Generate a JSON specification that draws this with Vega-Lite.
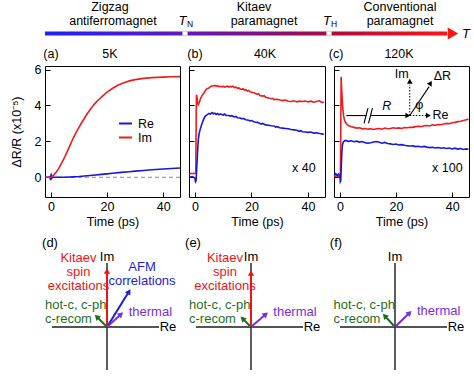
{
"$schema": "https://vega.github.io/schema/vega-lite/v6.json",
"padding": {"left": 9, "top": 0, "right": 0, "bottom": 0},
"autosize": {"type": "pad"},
"config": {
  "font": "Liberation Sans",
  "view": {"stroke": "black", "strokeWidth": 1},
  "axis": {"labelFontSize": 12.5, "titleFontSize": 12.5, "titleFontWeight": "normal", "labelColor": "black", "titleColor": "black", "tickColor": "black", "grid": false, "domain": false, "labelFont": "Liberation Sans", "titleFont": "Liberation Sans"},
  "legend": {"labelFont": "Liberation Sans"},
  "text": {"font": "Liberation Sans", "fontSize": 12.5, "color": "black"}
},
"datasets": {
  "a": [
    {"t":-2,"v":0,"s":"Re"},{"t":-1,"v":0,"s":"Re"},{"t":-0.4,"v":0.02,"s":"Re"},{"t":-0.1,"v":-0.15,"s":"Re"},{"t":0.1,"v":0.2,"s":"Re"},{"t":0.3,"v":-0.05,"s":"Re"},{"t":0.6,"v":0.02,"s":"Re"},{"t":1,"v":0,"s":"Re"},{"t":3,"v":0,"s":"Re"},{"t":5,"v":0,"s":"Re"},{"t":8,"v":0.02,"s":"Re"},{"t":10,"v":0.04,"s":"Re"},{"t":12,"v":0.07,"s":"Re"},{"t":15,"v":0.11,"s":"Re"},{"t":18,"v":0.16,"s":"Re"},{"t":20,"v":0.19,"s":"Re"},{"t":22,"v":0.22,"s":"Re"},{"t":25,"v":0.27,"s":"Re"},{"t":28,"v":0.31,"s":"Re"},{"t":30,"v":0.34,"s":"Re"},{"t":33,"v":0.38,"s":"Re"},{"t":36,"v":0.42,"s":"Re"},{"t":40,"v":0.46,"s":"Re"},{"t":43,"v":0.49,"s":"Re"},{"t":46,"v":0.52,"s":"Re"},
    {"t":-2,"v":0,"s":"Im"},{"t":-1,"v":0,"s":"Im"},{"t":0,"v":0,"s":"Im"},{"t":0.5,"v":0.05,"s":"Im"},{"t":1,"v":0.12,"s":"Im"},{"t":2,"v":0.3,"s":"Im"},{"t":3,"v":0.55,"s":"Im"},{"t":4,"v":0.85,"s":"Im"},{"t":5,"v":1.15,"s":"Im"},{"t":6,"v":1.5,"s":"Im"},{"t":7,"v":1.85,"s":"Im"},{"t":8,"v":2.2,"s":"Im"},{"t":9,"v":2.5,"s":"Im"},{"t":10,"v":2.78,"s":"Im"},{"t":11,"v":3.05,"s":"Im"},{"t":12,"v":3.3,"s":"Im"},{"t":13,"v":3.55,"s":"Im"},{"t":14,"v":3.78,"s":"Im"},{"t":15,"v":3.98,"s":"Im"},{"t":16,"v":4.16,"s":"Im"},{"t":17,"v":4.32,"s":"Im"},{"t":18,"v":4.47,"s":"Im"},{"t":19,"v":4.61,"s":"Im"},{"t":20,"v":4.74,"s":"Im"},{"t":22,"v":4.96,"s":"Im"},{"t":24,"v":5.14,"s":"Im"},{"t":26,"v":5.27,"s":"Im"},{"t":28,"v":5.37,"s":"Im"},{"t":30,"v":5.44,"s":"Im"},{"t":33,"v":5.51,"s":"Im"},{"t":36,"v":5.55,"s":"Im"},{"t":40,"v":5.58,"s":"Im"},{"t":43,"v":5.6,"s":"Im"},{"t":46,"v":5.61,"s":"Im"}
  ],
  "b": [
    {"t":-2,"v":0.2,"s":"Im"},{"t":-1.5,"v":0.22,"s":"Im"},{"t":-1,"v":0.2,"s":"Im"},{"t":-0.5,"v":0.22,"s":"Im"},{"t":0,"v":0.2,"s":"Im"},{"t":0.3,"v":0.25,"s":"Im"},{"t":0.45,"v":3.5,"s":"Im"},{"t":0.55,"v":4.6,"s":"Im"},{"t":0.7,"v":4.5,"s":"Im"},{"t":0.9,"v":4.15,"s":"Im"},{"t":1.2,"v":4.05,"s":"Im"},{"t":1.6,"v":4.2,"s":"Im"},{"t":2,"v":4.4,"s":"Im"},{"t":2.5,"v":4.55,"s":"Im"},{"t":3,"v":4.65,"s":"Im"},{"t":3.5,"v":4.78,"s":"Im"},{"t":4,"v":4.9,"s":"Im"},{"t":4.5,"v":4.95,"s":"Im"},{"t":5,"v":4.98,"s":"Im"},{"t":5.5,"v":5.05,"s":"Im"},{"t":6,"v":5.08,"s":"Im"},{"t":6.5,"v":5.1,"s":"Im"},{"t":7,"v":5.12,"s":"Im"},{"t":7.5,"v":5.08,"s":"Im"},{"t":8,"v":5.1,"s":"Im"},{"t":8.5,"v":5.05,"s":"Im"},{"t":9,"v":5.07,"s":"Im"},{"t":9.5,"v":5.04,"s":"Im"},{"t":10,"v":5.06,"s":"Im"},{"t":10.5,"v":5.02,"s":"Im"},{"t":11,"v":5.06,"s":"Im"},{"t":11.5,"v":5.08,"s":"Im"},{"t":12,"v":5.03,"s":"Im"},{"t":12.5,"v":5.06,"s":"Im"},{"t":13,"v":5.04,"s":"Im"},{"t":13.5,"v":5.07,"s":"Im"},{"t":14,"v":5.0,"s":"Im"},{"t":14.5,"v":5.02,"s":"Im"},{"t":15,"v":4.96,"s":"Im"},{"t":15.5,"v":4.98,"s":"Im"},{"t":16,"v":4.92,"s":"Im"},{"t":16.5,"v":4.9,"s":"Im"},{"t":17,"v":4.93,"s":"Im"},{"t":17.5,"v":4.86,"s":"Im"},{"t":18,"v":4.88,"s":"Im"},{"t":18.5,"v":4.8,"s":"Im"},{"t":19,"v":4.84,"s":"Im"},{"t":19.5,"v":4.76,"s":"Im"},{"t":20,"v":4.74,"s":"Im"},{"t":21,"v":4.7,"s":"Im"},{"t":22,"v":4.62,"s":"Im"},{"t":22.5,"v":4.66,"s":"Im"},{"t":23,"v":4.56,"s":"Im"},{"t":24,"v":4.52,"s":"Im"},{"t":24.5,"v":4.55,"s":"Im"},{"t":25,"v":4.46,"s":"Im"},{"t":26,"v":4.42,"s":"Im"},{"t":27,"v":4.38,"s":"Im"},{"t":27.5,"v":4.4,"s":"Im"},{"t":28,"v":4.33,"s":"Im"},{"t":29,"v":4.35,"s":"Im"},{"t":30,"v":4.3,"s":"Im"},{"t":31,"v":4.27,"s":"Im"},{"t":32,"v":4.3,"s":"Im"},{"t":33,"v":4.24,"s":"Im"},{"t":34,"v":4.22,"s":"Im"},{"t":35,"v":4.26,"s":"Im"},{"t":36,"v":4.2,"s":"Im"},{"t":37,"v":4.24,"s":"Im"},{"t":38,"v":4.22,"s":"Im"},{"t":39,"v":4.25,"s":"Im"},{"t":40,"v":4.2,"s":"Im"},{"t":41,"v":4.24,"s":"Im"},{"t":42,"v":4.18,"s":"Im"},{"t":43,"v":4.22,"s":"Im"},{"t":44,"v":4.26,"s":"Im"},{"t":45,"v":4.16,"s":"Im"},{"t":45.6,"v":4.2,"s":"Im"},
    {"t":-2,"v":0.05,"s":"Re"},{"t":-1.5,"v":0.0,"s":"Re"},{"t":-1,"v":0.04,"s":"Re"},{"t":-0.5,"v":0.0,"s":"Re"},{"t":0,"v":-0.05,"s":"Re"},{"t":0.2,"v":-0.25,"s":"Re"},{"t":0.4,"v":-0.2,"s":"Re"},{"t":0.6,"v":0.4,"s":"Re"},{"t":0.8,"v":1.0,"s":"Re"},{"t":1.0,"v":1.6,"s":"Re"},{"t":1.2,"v":2.1,"s":"Re"},{"t":1.5,"v":2.45,"s":"Re"},{"t":2,"v":2.75,"s":"Re"},{"t":2.5,"v":3.0,"s":"Re"},{"t":3,"v":3.2,"s":"Re"},{"t":3.5,"v":3.38,"s":"Re"},{"t":4,"v":3.45,"s":"Re"},{"t":4.5,"v":3.5,"s":"Re"},{"t":5,"v":3.56,"s":"Re"},{"t":5.5,"v":3.52,"s":"Re"},{"t":6,"v":3.6,"s":"Re"},{"t":6.5,"v":3.54,"s":"Re"},{"t":7,"v":3.57,"s":"Re"},{"t":7.5,"v":3.5,"s":"Re"},{"t":8,"v":3.55,"s":"Re"},{"t":8.5,"v":3.48,"s":"Re"},{"t":9,"v":3.53,"s":"Re"},{"t":9.5,"v":3.5,"s":"Re"},{"t":10,"v":3.47,"s":"Re"},{"t":10.5,"v":3.52,"s":"Re"},{"t":11,"v":3.45,"s":"Re"},{"t":12,"v":3.44,"s":"Re"},{"t":12.5,"v":3.4,"s":"Re"},{"t":13,"v":3.43,"s":"Re"},{"t":14,"v":3.36,"s":"Re"},{"t":14.5,"v":3.39,"s":"Re"},{"t":15,"v":3.32,"s":"Re"},{"t":16,"v":3.3,"s":"Re"},{"t":16.5,"v":3.26,"s":"Re"},{"t":17,"v":3.28,"s":"Re"},{"t":18,"v":3.2,"s":"Re"},{"t":19,"v":3.18,"s":"Re"},{"t":19.5,"v":3.14,"s":"Re"},{"t":20,"v":3.16,"s":"Re"},{"t":21,"v":3.08,"s":"Re"},{"t":22,"v":3.06,"s":"Re"},{"t":23,"v":3.0,"s":"Re"},{"t":23.5,"v":2.96,"s":"Re"},{"t":24,"v":3.0,"s":"Re"},{"t":25,"v":2.92,"s":"Re"},{"t":26,"v":2.9,"s":"Re"},{"t":27,"v":2.87,"s":"Re"},{"t":28,"v":2.86,"s":"Re"},{"t":28.5,"v":2.8,"s":"Re"},{"t":29,"v":2.82,"s":"Re"},{"t":30,"v":2.76,"s":"Re"},{"t":31,"v":2.74,"s":"Re"},{"t":32,"v":2.72,"s":"Re"},{"t":33,"v":2.7,"s":"Re"},{"t":34,"v":2.66,"s":"Re"},{"t":35,"v":2.64,"s":"Re"},{"t":36,"v":2.62,"s":"Re"},{"t":37,"v":2.56,"s":"Re"},{"t":37.5,"v":2.6,"s":"Re"},{"t":38,"v":2.54,"s":"Re"},{"t":39,"v":2.52,"s":"Re"},{"t":40,"v":2.5,"s":"Re"},{"t":41,"v":2.52,"s":"Re"},{"t":42,"v":2.46,"s":"Re"},{"t":43,"v":2.48,"s":"Re"},{"t":44,"v":2.44,"s":"Re"},{"t":45,"v":2.42,"s":"Re"},{"t":45.6,"v":2.38,"s":"Re"}
  ],
  "c": [
    {"t":-2,"v":0.05,"s":"Im"},{"t":-1,"v":0.08,"s":"Im"},{"t":-0.5,"v":0.04,"s":"Im"},{"t":0,"v":0.06,"s":"Im"},{"t":0.2,"v":0.3,"s":"Im"},{"t":0.35,"v":3.5,"s":"Im"},{"t":0.45,"v":5.6,"s":"Im"},{"t":0.6,"v":5.0,"s":"Im"},{"t":0.8,"v":4.4,"s":"Im"},{"t":1.0,"v":3.9,"s":"Im"},{"t":1.3,"v":3.45,"s":"Im"},{"t":1.6,"v":3.2,"s":"Im"},{"t":2,"v":3.05,"s":"Im"},{"t":2.5,"v":2.95,"s":"Im"},{"t":3,"v":2.88,"s":"Im"},{"t":4,"v":2.82,"s":"Im"},{"t":5,"v":2.78,"s":"Im"},{"t":6,"v":2.74,"s":"Im"},{"t":7,"v":2.76,"s":"Im"},{"t":8,"v":2.7,"s":"Im"},{"t":9,"v":2.72,"s":"Im"},{"t":10,"v":2.68,"s":"Im"},{"t":11,"v":2.7,"s":"Im"},{"t":12,"v":2.66,"s":"Im"},{"t":13,"v":2.7,"s":"Im"},{"t":14,"v":2.72,"s":"Im"},{"t":15,"v":2.68,"s":"Im"},{"t":16,"v":2.74,"s":"Im"},{"t":17,"v":2.7,"s":"Im"},{"t":18,"v":2.72,"s":"Im"},{"t":19,"v":2.76,"s":"Im"},{"t":20,"v":2.73,"s":"Im"},{"t":21,"v":2.75,"s":"Im"},{"t":22,"v":2.72,"s":"Im"},{"t":23,"v":2.77,"s":"Im"},{"t":24,"v":2.76,"s":"Im"},{"t":25,"v":2.79,"s":"Im"},{"t":26,"v":2.78,"s":"Im"},{"t":27,"v":2.82,"s":"Im"},{"t":28,"v":2.84,"s":"Im"},{"t":29,"v":2.82,"s":"Im"},{"t":30,"v":2.87,"s":"Im"},{"t":31,"v":2.88,"s":"Im"},{"t":32,"v":2.86,"s":"Im"},{"t":33,"v":2.92,"s":"Im"},{"t":34,"v":2.9,"s":"Im"},{"t":35,"v":2.94,"s":"Im"},{"t":36,"v":2.93,"s":"Im"},{"t":37,"v":2.97,"s":"Im"},{"t":38,"v":3.0,"s":"Im"},{"t":39,"v":2.98,"s":"Im"},{"t":40,"v":3.04,"s":"Im"},{"t":41,"v":3.06,"s":"Im"},{"t":42,"v":3.1,"s":"Im"},{"t":43,"v":3.12,"s":"Im"},{"t":44,"v":3.16,"s":"Im"},{"t":45,"v":3.2,"s":"Im"},{"t":45.8,"v":3.24,"s":"Im"},
    {"t":-2,"v":0.12,"s":"Re"},{"t":-1.5,"v":0.2,"s":"Re"},{"t":-1,"v":0.1,"s":"Re"},{"t":-0.5,"v":0.18,"s":"Re"},{"t":0,"v":0.05,"s":"Re"},{"t":0.15,"v":-0.25,"s":"Re"},{"t":0.3,"v":-0.2,"s":"Re"},{"t":0.5,"v":0.6,"s":"Re"},{"t":0.7,"v":1.4,"s":"Re"},{"t":0.9,"v":1.8,"s":"Re"},{"t":1.2,"v":1.95,"s":"Re"},{"t":1.6,"v":2.02,"s":"Re"},{"t":2,"v":2.05,"s":"Re"},{"t":3,"v":2.0,"s":"Re"},{"t":4,"v":2.03,"s":"Re"},{"t":5,"v":1.98,"s":"Re"},{"t":6,"v":2.01,"s":"Re"},{"t":7,"v":1.96,"s":"Re"},{"t":8,"v":1.99,"s":"Re"},{"t":9,"v":1.93,"s":"Re"},{"t":10,"v":1.9,"s":"Re"},{"t":11,"v":1.92,"s":"Re"},{"t":12,"v":1.96,"s":"Re"},{"t":13,"v":1.99,"s":"Re"},{"t":14,"v":1.95,"s":"Re"},{"t":15,"v":1.9,"s":"Re"},{"t":16,"v":1.94,"s":"Re"},{"t":17,"v":1.88,"s":"Re"},{"t":18,"v":1.86,"s":"Re"},{"t":19,"v":1.83,"s":"Re"},{"t":20,"v":1.85,"s":"Re"},{"t":21,"v":1.8,"s":"Re"},{"t":22,"v":1.82,"s":"Re"},{"t":23,"v":1.78,"s":"Re"},{"t":24,"v":1.76,"s":"Re"},{"t":25,"v":1.74,"s":"Re"},{"t":26,"v":1.75,"s":"Re"},{"t":27,"v":1.71,"s":"Re"},{"t":28,"v":1.73,"s":"Re"},{"t":29,"v":1.69,"s":"Re"},{"t":30,"v":1.72,"s":"Re"},{"t":31,"v":1.68,"s":"Re"},{"t":32,"v":1.65,"s":"Re"},{"t":33,"v":1.67,"s":"Re"},{"t":34,"v":1.63,"s":"Re"},{"t":35,"v":1.66,"s":"Re"},{"t":36,"v":1.62,"s":"Re"},{"t":37,"v":1.64,"s":"Re"},{"t":38,"v":1.6,"s":"Re"},{"t":39,"v":1.63,"s":"Re"},{"t":40,"v":1.58,"s":"Re"},{"t":41,"v":1.62,"s":"Re"},{"t":42,"v":1.57,"s":"Re"},{"t":43,"v":1.6,"s":"Re"},{"t":44,"v":1.55,"s":"Re"},{"t":45,"v":1.58,"s":"Re"},{"t":45.8,"v":1.56,"s":"Re"}
  ],
  "vec": [
    {"p":"d","n":"Kitaev","x":0,"y":56},{"p":"d","n":"AFM","x":22,"y":35.5},{"p":"d","n":"thermal","x":14,"y":12.8},{"p":"d","n":"hot","x":-10.2,"y":10.2},
    {"p":"e","n":"Kitaev","x":0,"y":54},{"p":"e","n":"thermal","x":14.8,"y":12.8},{"p":"e","n":"hot","x":-8.5,"y":8.5},
    {"p":"f","n":"thermal","x":14.6,"y":14.2},{"p":"f","n":"hot","x":-10.3,"y":11.2}
  ],
  "lab": [
    {"p":"d","n":"Kitaev","a":"c","x":-28.5,"y":75.5,"text":"Kitaev\nspin\nexcitations"},
    {"p":"d","n":"AFM","a":"c","x":35,"y":66.5,"text":"AFM\ncorrelations"},
    {"p":"d","n":"hot","a":"l","x":-62,"y":27.8,"text":"hot-c, c-ph\nc-recom"},
    {"p":"d","n":"thermal","a":"l","x":21.7,"y":21.5,"text":"thermal"},
    {"p":"e","n":"Kitaev","a":"c","x":-26,"y":75.5,"text":"Kitaev\nspin\nexcitations"},
    {"p":"e","n":"hot","a":"l","x":-62,"y":27.8,"text":"hot-c, c-ph\nc-recom"},
    {"p":"e","n":"thermal","a":"l","x":22.3,"y":21.5,"text":"thermal"},
    {"p":"f","n":"hot","a":"l","x":-61.5,"y":27.8,"text":"hot-c, c-ph\nc-recom"},
    {"p":"f","n":"thermal","a":"l","x":22,"y":22.5,"text":"thermal"}
  ],
  "axes": [{"x":-55,"y":0,"x2":52,"y2":0},{"x":0,"y":-43,"x2":0,"y2":64}]
},
"spacing": 2,
"resolve": {"scale": {"color": "independent"}},
"vconcat": [
  {
    "width": 431, "height": 60, "view": {"stroke": null},
    "layer": [
      {"data": {"values": [{"x": 0, "x2": 402, "y": 31.5, "y2": 35.5}]},
       "mark": {"type": "rect", "color": {"gradient": "linear", "x1": 0, "y1": 0, "x2": 1, "y2": 0, "stops": [{"offset": 0, "color": "#1e1eff"}, {"offset": 0.33, "color": "#6018c0"}, {"offset": 0.55, "color": "#80107a"}, {"offset": 0.72, "color": "#b00c3c"}, {"offset": 1, "color": "#ff1414"}]}},
       "encoding": {"x": {"field": "x", "type": "quantitative", "scale": {"domain": [0, 431], "nice": false, "zero": false}, "axis": null}, "x2": {"field": "x2"},
                    "y": {"field": "y", "type": "quantitative", "scale": {"domain": [0, 60], "nice": false, "zero": false, "reverse": true}, "axis": null}, "y2": {"field": "y2"}}},
      {"data": {"values": [{"x": 408, "y": 33.5}]},
       "mark": {"type": "point", "shape": "triangle-right", "filled": true, "size": 150, "color": "#ff1414", "opacity": 1},
       "encoding": {"x": {"field": "x", "type": "quantitative"}, "y": {"field": "y", "type": "quantitative"}}},
      {"data": {"values": [{"x": 140, "y": 33.5}, {"x": 284, "y": 33.5}]},
       "mark": {"type": "point", "shape": "square", "filled": true, "size": 22, "fill": "white", "stroke": "#c8c8c8", "strokeWidth": 0.8, "opacity": 1},
       "encoding": {"x": {"field": "x", "type": "quantitative"}, "y": {"field": "y", "type": "quantitative"}}},
      {"data": {"values": [
         {"x": 65, "y": 6.5, "text": "Zigzag"}, {"x": 68, "y": 20.5, "text": "antiferromagnet"},
         {"x": 209, "y": 6.5, "text": "Kitaev"}, {"x": 219, "y": 20.5, "text": "paramagnet"},
         {"x": 355, "y": 6.5, "text": "Conventional"}, {"x": 355, "y": 20.5, "text": "paramagnet"},
         {"x": 6, "y": 54, "text": "(a)"}, {"x": 65, "y": 54, "text": "5K"},
         {"x": 150, "y": 54, "text": "(b)"}, {"x": 220, "y": 54, "text": "40K"},
         {"x": 291, "y": 54, "text": "(c)"}, {"x": 354, "y": 54, "text": "120K"}]},
       "mark": {"type": "text", "fontSize": 12.5, "align": "center", "baseline": "middle"},
       "encoding": {"x": {"field": "x", "type": "quantitative"}, "y": {"field": "y", "type": "quantitative"}, "text": {"field": "text"}}},
      {"data": {"values": [{"x": 137.5, "y": 20.5, "text": "T"}, {"x": 282, "y": 20.5, "text": "T"}, {"x": 421, "y": 33.5, "text": "T"}]},
       "mark": {"type": "text", "fontSize": 13, "fontStyle": "italic", "align": "center", "baseline": "middle"},
       "encoding": {"x": {"field": "x", "type": "quantitative"}, "y": {"field": "y", "type": "quantitative"}, "text": {"field": "text"}}},
      {"data": {"values": [{"x": 145, "y": 23.5, "text": "N"}, {"x": 289, "y": 23.5, "text": "H"}]},
       "mark": {"type": "text", "fontSize": 8.5, "align": "center", "baseline": "middle"},
       "encoding": {"x": {"field": "x", "type": "quantitative"}, "y": {"field": "y", "type": "quantitative"}, "text": {"field": "text"}}}
    ]
  },
  {
    "spacing": 9,
    "bounds": "flush",
    "resolve": {"scale": {"color": "independent"}},
    "hconcat": [
      {
        "width": 135, "height": 131,
        "layer": [
          {"data": {"values": [{"z": 0}]}, "mark": {"type": "rule", "color": "#8c8c8c", "strokeDash": [4, 3], "strokeWidth": 1}, "encoding": {"y": {"field": "z", "type": "quantitative"}}},
          {"data": {"name": "a"}, "mark": {"type": "line", "strokeWidth": 1.6},
           "encoding": {
             "x": {"field": "t", "type": "quantitative", "scale": {"domain": [-2.1, 46], "nice": false, "zero": false}, "axis": {"values": [0, 20, 40], "title": "Time (ps)", "tickSize": -5, "labelPadding": 8, "titlePadding": 3}},
             "y": {"field": "v", "type": "quantitative", "scale": {"domain": [-1.1, 6.2], "nice": false, "zero": false}, "axis": {"values": [0, 2, 4, 6], "title": "ΔR/R (x10⁻⁵)", "tickSize": -5, "labelPadding": 9, "titlePadding": 11}},
             "color": {"field": "s", "type": "nominal", "scale": {"domain": ["Re", "Im"], "range": ["#1818dc", "#ee1c1c"]},
                       "legend": {"orient": "none", "legendX": 73, "legendY": 50, "title": null, "symbolType": "stroke", "symbolStrokeWidth": 2, "symbolSize": 169, "labelFontSize": 12.5, "rowPadding": 0, "labelOffset": 5, "padding": 0}}
           }}
        ]
      },
      {
        "width": 136, "height": 131,
        "layer": [
          {"data": {"name": "b"}, "mark": {"type": "line", "strokeWidth": 1.6},
           "encoding": {
             "x": {"field": "t", "type": "quantitative", "scale": {"domain": [-2.1, 46], "nice": false, "zero": false}, "axis": {"values": [0, 20, 40], "title": "Time (ps)", "tickSize": -5, "labelPadding": 8, "titlePadding": 3}},
             "y": {"field": "v", "type": "quantitative", "scale": {"domain": [-1.1, 6.2], "nice": false, "zero": false}, "axis": {"values": [0, 2, 4, 6], "labels": false, "title": null, "tickSize": -5}},
             "color": {"field": "s", "type": "nominal", "scale": {"domain": ["Re", "Im"], "range": ["#1818dc", "#ee1c1c"]}, "legend": null}
           }},
          {"data": {"values": [{"t": 38.5, "v": 0.5, "text": "x 40"}]}, "mark": {"type": "text", "fontSize": 12.5},
           "encoding": {"x": {"field": "t", "type": "quantitative"}, "y": {"field": "v", "type": "quantitative"}, "text": {"field": "text"}}}
        ]
      },
      {
        "width": 135, "height": 131,
        "layer": [
          {"data": {"name": "c"}, "mark": {"type": "line", "strokeWidth": 1.6},
           "encoding": {
             "x": {"field": "t", "type": "quantitative", "scale": {"domain": [-2.1, 46], "nice": false, "zero": false}, "axis": {"values": [0, 20, 40], "title": "Time (ps)", "tickSize": -5, "labelPadding": 8, "titlePadding": 3}},
             "y": {"field": "v", "type": "quantitative", "scale": {"domain": [-1.1, 6.2], "nice": false, "zero": false}, "axis": {"values": [0, 2, 4, 6], "labels": false, "title": null, "tickSize": -5}},
             "color": {"field": "s", "type": "nominal", "scale": {"domain": ["Re", "Im"], "range": ["#1818dc", "#ee1c1c"]}, "legend": null}
           }},
          {"data": {"values": [{"t": 2.3, "v": 3.44, "t2": 9.4, "v2": 3.44}, {"t": 10.8, "v": 3.44, "t2": 23.6, "v2": 3.44}, {"t": 24.9, "v": 3.44, "t2": 31.8, "v2": 5.05}, {"t": 8.6, "v": 3.0, "t2": 10.0, "v2": 3.85}, {"t": 10.2, "v": 3.0, "t2": 11.6, "v2": 3.85}]},
           "mark": {"type": "rule", "color": "black", "strokeWidth": 1.1},
           "encoding": {"x": {"field": "t", "type": "quantitative"}, "y": {"field": "v", "type": "quantitative"}, "x2": {"field": "t2"}, "y2": {"field": "v2"}}},
          {"data": {"values": [{"t": 24.9, "v": 3.44, "t2": 24.9, "v2": 5.15}, {"t": 24.9, "v": 3.44, "t2": 30.8, "v2": 3.44}]},
           "mark": {"type": "rule", "color": "black", "strokeWidth": 1, "strokeDash": [1.5, 1.5]},
           "encoding": {"x": {"field": "t", "type": "quantitative"}, "y": {"field": "v", "type": "quantitative"}, "x2": {"field": "t2"}, "y2": {"field": "v2"}}},
          {"data": {"values": [{"t": 24.2, "v": 3.44}, {"t": 31.5, "v": 3.44}]},
           "mark": {"type": "point", "shape": "triangle-right", "filled": true, "size": 32, "color": "black", "opacity": 1},
           "encoding": {"x": {"field": "t", "type": "quantitative"}, "y": {"field": "v", "type": "quantitative"}}},
          {"data": {"values": [{"t": 24.9, "v": 5.35}]},
           "mark": {"type": "point", "shape": "triangle-up", "filled": true, "size": 32, "color": "black", "opacity": 1},
           "encoding": {"x": {"field": "t", "type": "quantitative"}, "y": {"field": "v", "type": "quantitative"}}},
          {"data": {"values": [{"t": 32.3, "v": 5.25}]},
           "mark": {"type": "point", "shape": "triangle-up", "filled": true, "size": 32, "color": "black", "opacity": 1, "angle": 33},
           "encoding": {"x": {"field": "t", "type": "quantitative"}, "y": {"field": "v", "type": "quantitative"}}},
          {"data": {"values": [{"t": 22, "v": 5.75, "text": "Im"}, {"t": 36.5, "v": 5.65, "text": "ΔR"}, {"t": 35.8, "v": 3.45, "text": "Re"}, {"t": 28.3, "v": 4.0, "text": "φ"}, {"t": 38.3, "v": 0.5, "text": "x 100"}]},
           "mark": {"type": "text", "fontSize": 12.5},
           "encoding": {"x": {"field": "t", "type": "quantitative"}, "y": {"field": "v", "type": "quantitative"}, "text": {"field": "text"}}},
          {"data": {"values": [{"t": 16.7, "v": 3.95, "text": "R"}]},
           "mark": {"type": "text", "fontSize": 12.5, "fontStyle": "italic"},
           "encoding": {"x": {"field": "t", "type": "quantitative"}, "y": {"field": "v", "type": "quantitative"}, "text": {"field": "text"}}}
        ]
      }
    ]
  },
  {
    "spacing": 0,
    "bounds": "flush",
    "hconcat": [
      {
        "width": 144, "height": 145, "view": {"stroke": null},
        "layer": [
          {"data": {"name": "axes"}, "mark": {"type": "rule", "color": "#1a1a1a", "strokeWidth": 1.4},
           "encoding": {"x": {"field": "x", "type": "quantitative", "scale": {"domain": [-62, 82], "nice": false, "zero": false}, "axis": null}, "y": {"field": "y", "type": "quantitative", "scale": {"domain": [-49, 96], "nice": false, "zero": false}, "axis": null}, "x2": {"field": "x2"}, "y2": {"field": "y2"}}},
          {"data": {"values": [{"x": 0, "y": 70.5, "text": "Im"}, {"x": 61, "y": 0, "text": "Re"}, {"x": -57, "y": 84, "text": "(d)"}]}, "mark": {"type": "text", "fontSize": 13},
           "encoding": {"x": {"field": "x", "type": "quantitative"}, "y": {"field": "y", "type": "quantitative"}, "text": {"field": "text"}}},
          {"data": {"name": "vec"}, "transform": [{"filter": "datum.p === 'd'"}], "mark": {"type": "rule", "strokeWidth": 2},
           "encoding": {"x": {"field": "x", "type": "quantitative"}, "y": {"field": "y", "type": "quantitative"}, "x2": {"datum": 0}, "y2": {"datum": 0},
                        "color": {"field": "n", "type": "nominal", "scale": {"domain": ["Kitaev", "AFM", "thermal", "hot"], "range": ["#f01414", "#1c1cd6", "#7b2be0", "#1f6e1f"]}, "legend": null}}},
          {"data": {"name": "vec"}, "transform": [{"filter": "datum.p === 'd'"}, {"calculate": "atan2(datum.x, datum.y) * 180 / PI", "as": "ang"}],
           "mark": {"type": "point", "shape": "triangle-up", "filled": true, "size": 40, "opacity": 1},
           "encoding": {"x": {"field": "x", "type": "quantitative"}, "y": {"field": "y", "type": "quantitative"}, "angle": {"field": "ang", "type": "quantitative", "scale": null},
                        "color": {"field": "n", "type": "nominal", "legend": null}}},
          {"data": {"name": "lab"}, "transform": [{"filter": "datum.p === 'd' && datum.a === 'c'"}],
           "mark": {"type": "text", "fontSize": 13, "align": "center", "baseline": "top", "lineBreak": "\n", "lineHeight": 14},
           "encoding": {"x": {"field": "x", "type": "quantitative"}, "y": {"field": "y", "type": "quantitative"}, "text": {"field": "text"}, "color": {"field": "n", "type": "nominal", "legend": null}}},
          {"data": {"name": "lab"}, "transform": [{"filter": "datum.p === 'd' && datum.a === 'l'"}],
           "mark": {"type": "text", "fontSize": 13, "align": "left", "baseline": "top", "lineBreak": "\n", "lineHeight": 14},
           "encoding": {"x": {"field": "x", "type": "quantitative"}, "y": {"field": "y", "type": "quantitative"}, "text": {"field": "text"}, "color": {"field": "n", "type": "nominal", "legend": null}}}
        ]
      },
      {
        "width": 144, "height": 145, "view": {"stroke": null},
        "layer": [
          {"data": {"name": "axes"}, "mark": {"type": "rule", "color": "#1a1a1a", "strokeWidth": 1.4},
           "encoding": {"x": {"field": "x", "type": "quantitative", "scale": {"domain": [-62, 82], "nice": false, "zero": false}, "axis": null}, "y": {"field": "y", "type": "quantitative", "scale": {"domain": [-49, 96], "nice": false, "zero": false}, "axis": null}, "x2": {"field": "x2"}, "y2": {"field": "y2"}}},
          {"data": {"values": [{"x": 0, "y": 70.5, "text": "Im"}, {"x": 61, "y": 0, "text": "Re"}, {"x": -58, "y": 84, "text": "(e)"}]}, "mark": {"type": "text", "fontSize": 13},
           "encoding": {"x": {"field": "x", "type": "quantitative"}, "y": {"field": "y", "type": "quantitative"}, "text": {"field": "text"}}},
          {"data": {"name": "vec"}, "transform": [{"filter": "datum.p === 'e'"}], "mark": {"type": "rule", "strokeWidth": 2},
           "encoding": {"x": {"field": "x", "type": "quantitative"}, "y": {"field": "y", "type": "quantitative"}, "x2": {"datum": 0}, "y2": {"datum": 0},
                        "color": {"field": "n", "type": "nominal", "scale": {"domain": ["Kitaev", "AFM", "thermal", "hot"], "range": ["#f01414", "#1c1cd6", "#7b2be0", "#1f6e1f"]}, "legend": null}}},
          {"data": {"name": "vec"}, "transform": [{"filter": "datum.p === 'e'"}, {"calculate": "atan2(datum.x, datum.y) * 180 / PI", "as": "ang"}],
           "mark": {"type": "point", "shape": "triangle-up", "filled": true, "size": 40, "opacity": 1},
           "encoding": {"x": {"field": "x", "type": "quantitative"}, "y": {"field": "y", "type": "quantitative"}, "angle": {"field": "ang", "type": "quantitative", "scale": null},
                        "color": {"field": "n", "type": "nominal", "legend": null}}},
          {"data": {"name": "lab"}, "transform": [{"filter": "datum.p === 'e' && datum.a === 'c'"}],
           "mark": {"type": "text", "fontSize": 13, "align": "center", "baseline": "top", "lineBreak": "\n", "lineHeight": 14},
           "encoding": {"x": {"field": "x", "type": "quantitative"}, "y": {"field": "y", "type": "quantitative"}, "text": {"field": "text"}, "color": {"field": "n", "type": "nominal", "legend": null}}},
          {"data": {"name": "lab"}, "transform": [{"filter": "datum.p === 'e' && datum.a === 'l'"}],
           "mark": {"type": "text", "fontSize": 13, "align": "left", "baseline": "top", "lineBreak": "\n", "lineHeight": 14},
           "encoding": {"x": {"field": "x", "type": "quantitative"}, "y": {"field": "y", "type": "quantitative"}, "text": {"field": "text"}, "color": {"field": "n", "type": "nominal", "legend": null}}}
        ]
      },
      {
        "width": 144, "height": 145, "view": {"stroke": null},
        "layer": [
          {"data": {"name": "axes"}, "mark": {"type": "rule", "color": "#1a1a1a", "strokeWidth": 1.4},
           "encoding": {"x": {"field": "x", "type": "quantitative", "scale": {"domain": [-62, 82], "nice": false, "zero": false}, "axis": null}, "y": {"field": "y", "type": "quantitative", "scale": {"domain": [-49, 96], "nice": false, "zero": false}, "axis": null}, "x2": {"field": "x2"}, "y2": {"field": "y2"}}},
          {"data": {"values": [{"x": 0, "y": 70.5, "text": "Im"}, {"x": 61, "y": 0, "text": "Re"}, {"x": -59, "y": 84, "text": "(f)"}]}, "mark": {"type": "text", "fontSize": 13},
           "encoding": {"x": {"field": "x", "type": "quantitative"}, "y": {"field": "y", "type": "quantitative"}, "text": {"field": "text"}}},
          {"data": {"name": "vec"}, "transform": [{"filter": "datum.p === 'f'"}], "mark": {"type": "rule", "strokeWidth": 2},
           "encoding": {"x": {"field": "x", "type": "quantitative"}, "y": {"field": "y", "type": "quantitative"}, "x2": {"datum": 0}, "y2": {"datum": 0},
                        "color": {"field": "n", "type": "nominal", "scale": {"domain": ["Kitaev", "AFM", "thermal", "hot"], "range": ["#f01414", "#1c1cd6", "#7b2be0", "#1f6e1f"]}, "legend": null}}},
          {"data": {"name": "vec"}, "transform": [{"filter": "datum.p === 'f'"}, {"calculate": "atan2(datum.x, datum.y) * 180 / PI", "as": "ang"}],
           "mark": {"type": "point", "shape": "triangle-up", "filled": true, "size": 40, "opacity": 1},
           "encoding": {"x": {"field": "x", "type": "quantitative"}, "y": {"field": "y", "type": "quantitative"}, "angle": {"field": "ang", "type": "quantitative", "scale": null},
                        "color": {"field": "n", "type": "nominal", "legend": null}}},
          {"data": {"name": "lab"}, "transform": [{"filter": "datum.p === 'f' && datum.a === 'l'"}],
           "mark": {"type": "text", "fontSize": 13, "align": "left", "baseline": "top", "lineBreak": "\n", "lineHeight": 14},
           "encoding": {"x": {"field": "x", "type": "quantitative"}, "y": {"field": "y", "type": "quantitative"}, "text": {"field": "text"}, "color": {"field": "n", "type": "nominal", "legend": null}}}
        ]
      }
    ]
  }
]
}
